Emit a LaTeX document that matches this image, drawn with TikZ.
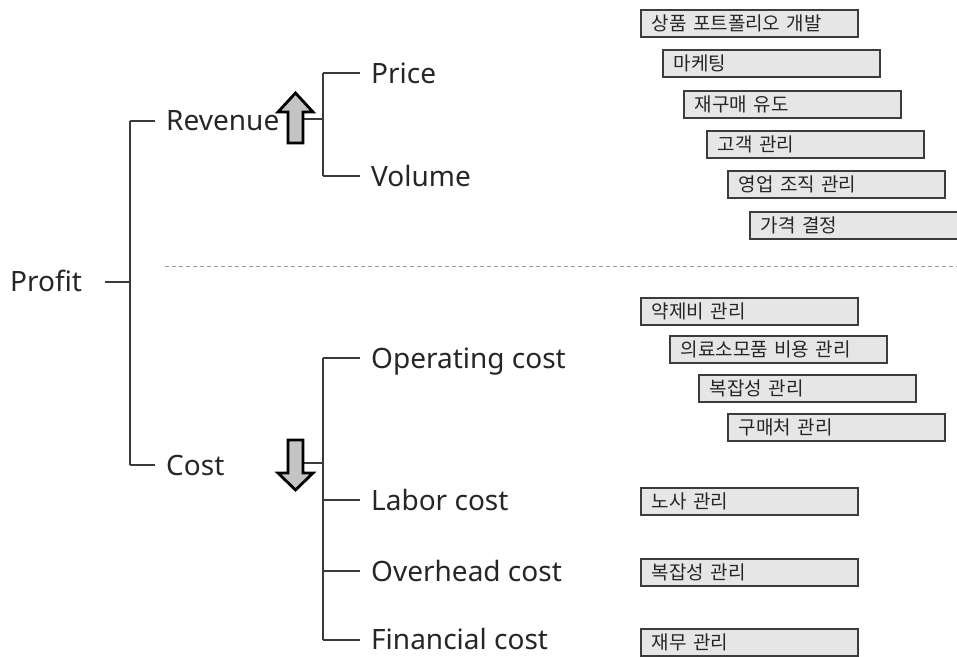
\documentclass[tikz,border=0pt]{standalone}
\usepackage{fontspec}
\setmainfont{Noto Sans}
\newfontfamily\kr{Noto Sans CJK KR}
\definecolor{linec}{HTML}{3A3A3A}
\definecolor{boxfill}{HTML}{E6E6E6}
\definecolor{boxline}{HTML}{3C3C3C}
\definecolor{arrowfill}{HTML}{C4C4C4}
\definecolor{dashc}{HTML}{9A9A9A}
\tikzset{
  tree/.style={draw=linec, line width=1.1pt},
  lbl/.style={anchor=base west, inner sep=0pt, font=\fontsize{28}{32}\selectfont, text=black!85},
  task/.style={draw=boxline, fill=boxfill, line width=1.5pt, anchor=north west,
    inner xsep=11pt, inner ysep=0pt, text width=195pt, minimum height=27pt, align=left,
    font=\kr\fontsize{19}{21}\selectfont, text=black!85},
  bigarrow/.style={draw=black, fill=arrowfill, line width=2.8pt, line join=miter}
}
\begin{document}
\begin{tikzpicture}[x=1pt,y=-1pt]
\useasboundingbox (0,0) rectangle (957,656);

% main labels
\node[lbl] (profit) at (10,291) {Profit};
\node[lbl] (revenue) at (166,130) {Revenue};
\node[lbl] (cost) at (166,475) {Cost};
\node[lbl] (price) at (371,83) {Price};
\node[lbl] (volume) at (371,186) {Volume};
\node[lbl] (opcost) at (371,368) {Operating cost};
\node[lbl] (labor) at (371,510) {Labor cost};
\node[lbl] (overhead) at (371,581) {Overhead cost};
\node[lbl] (financial) at (371,649) {Financial cost};

% junctions of the tree
\coordinate (pstub) at (105,282);
\coordinate (pmid) at (130,282);
\coordinate (trTop) at (130,121);
\coordinate (trBot) at (130,465);
\coordinate (revStub) at (155,121);
\coordinate (costStub) at (155,465);
\coordinate (revJoin) at (303,119);
\coordinate (revBar) at (323,119);
\coordinate (pvTop) at (323,73);
\coordinate (pvBot) at (323,176);
\coordinate (priceStub) at (360,73);
\coordinate (volStub) at (360,176);
\coordinate (costJoin) at (303,463);
\coordinate (costBar) at (323,463);
\coordinate (cTop) at (323,358);
\coordinate (cBot) at (323,640);
\coordinate (opStub) at (360,358);
\coordinate (lbStub) at (360,500);
\coordinate (ovStub) at (360,571);
\coordinate (fnStub) at (360,640);
\coordinate (lbBar) at (323,500);
\coordinate (ovBar) at (323,571);

% tree lines
\draw[tree] (pstub) -- (pmid);
\draw[tree] (trTop) -- (trBot);
\draw[tree] (trTop) -- (revStub);
\draw[tree] (trBot) -- (costStub);
\draw[tree] (revJoin) -- (revBar);
\draw[tree] (pvTop) -- (pvBot);
\draw[tree] (pvTop) -- (priceStub);
\draw[tree] (pvBot) -- (volStub);
\draw[tree] (costJoin) -- (costBar);
\draw[tree] (cTop) -- (cBot);
\draw[tree] (cTop) -- (opStub);
\draw[tree] (lbBar) -- (lbStub);
\draw[tree] (ovBar) -- (ovStub);
\draw[tree] (cBot) -- (fnStub);

% revenue / cost separator
\draw[dashc, line width=1pt, dash pattern=on 4pt off 3pt] (165,266) -- (957,266);

% up and down arrows
\draw[bigarrow] (295.5,93) -- (313,112) -- (303,112) -- (303,143) -- (288,143)
  -- (288,112) -- (278,112) -- cycle;
\draw[bigarrow] (295.5,490) -- (313,473) -- (303,473) -- (303,440) -- (288,440)
  -- (288,473) -- (278,473) -- cycle;

% revenue actions
\node[task] (r1) at (640,9) {상품 포트폴리오 개발};
\node[task] (r2) at (662,49) {마케팅};
\node[task] (r3) at (683,90) {재구매 유도};
\node[task] (r4) at (706,130) {고객 관리};
\node[task] (r5) at (727,170) {영업 조직 관리};
\node[task] (r6) at (749,211) {가격 결정};

% cost actions
\node[task] (c1) at (640,297) {약제비 관리};
\node[task] (c2) at (669,335) {의료소모품 비용 관리};
\node[task] (c3) at (698,374) {복잡성 관리};
\node[task] (c4) at (727,413) {구매처 관리};
\node[task] (c5) at (640,487) {노사 관리};
\node[task] (c6) at (640,558) {복잡성 관리};
\node[task] (c7) at (640,628) {재무 관리};
\end{tikzpicture}
\end{document}
